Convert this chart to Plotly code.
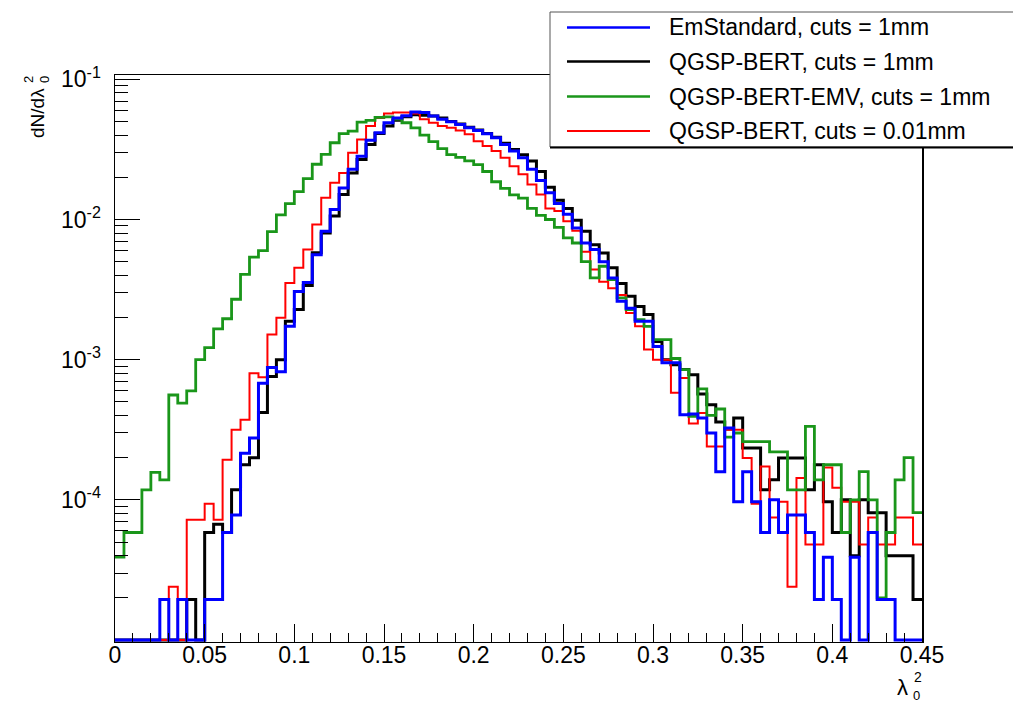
import plotly.graph_objects as go

# ---------------- data (bin contents, 90 bins of width 0.005 over [0, 0.45]) ----------------
bin_width = 0.005
n_bins = 90

em_standard_1mm = [0, 0, 0, 0, 0, 1.95e-5, 0, 1.95e-5, 0, 0,
                   1.95e-5, 1.95e-5, 5.85e-5, 7.8e-5, 2.15e-4, 2.76e-4, 6.8e-4, 8.8e-4, 8.2e-4, 1.73e-3,
                   3.07e-3, 3.56e-3, 5.6e-3, 8.26e-3, 1.18e-2, 1.68e-2, 2.28e-2, 2.83e-2, 3.68e-2, 4.16e-2,
                   4.9e-2, 5.3e-2, 5.5e-2, 5.85e-2, 5.8e-2, 5.47e-2, 5.2e-2, 4.99e-2, 4.77e-2, 4.52e-2,
                   4.32e-2, 4.09e-2, 3.83e-2, 3.43e-2, 3.08e-2, 2.76e-2, 2.28e-2, 1.9e-2, 1.55e-2, 1.3e-2,
                   1.09e-2, 8.7e-3, 6.8e-3, 6.1e-3, 5.0e-3, 3.83e-3, 2.61e-3, 2.33e-3, 1.88e-3, 1.88e-3,
                   1.24e-3, 9.5e-4, 9.5e-4, 4.05e-4, 4.1e-4, 3.83e-4, 3.0e-4, 1.59e-4, 3.25e-4, 9.7e-5,
                   1.59e-4, 9.7e-5, 5.85e-5, 1.0e-4, 5.85e-5, 7.8e-5, 7.8e-5, 5.85e-5, 1.95e-5, 3.9e-5,
                   1.95e-5, 0, 3.9e-5, 0, 5.85e-5, 1.95e-5, 1.95e-5, 0, 0, 0]

qgsp_bert_1mm = [0, 0, 0, 0, 0, 0, 0, 0, 1.95e-5, 0,
                 5.85e-5, 6.7e-5, 5.85e-5, 1.18e-4, 1.78e-4, 2.0e-4, 4.2e-4, 7.6e-4, 1.0e-3, 1.88e-3,
                 2.28e-3, 3.38e-3, 5.8e-3, 8.0e-3, 1.06e-2, 1.51e-2, 2.15e-2, 2.68e-2, 3.43e-2, 4.11e-2,
                 4.65e-2, 5.1e-2, 5.4e-2, 5.6e-2, 5.55e-2, 5.47e-2, 5.3e-2, 5.0e-2, 4.8e-2, 4.55e-2,
                 4.35e-2, 4.1e-2, 3.87e-2, 3.5e-2, 3.16e-2, 2.9e-2, 2.61e-2, 2.2e-2, 1.7e-2, 1.37e-2,
                 1.2e-2, 9.9e-3, 8.26e-3, 6.6e-3, 5.78e-3, 4.52e-3, 3.49e-3, 2.83e-3, 2.4e-3, 2.1e-3,
                 1.35e-3, 1.0e-3, 9.2e-4, 8.5e-4, 7.8e-4, 5.7e-4, 4.77e-4, 3.6e-4, 3.2e-4, 3.83e-4,
                 2.34e-4, 2.34e-4, 1.18e-4, 1.39e-4, 1.99e-4, 1.99e-4, 1.99e-4, 1.18e-4, 1.78e-4, 9.7e-5,
                 5.85e-5, 1.0e-4, 4.0e-5, 1.0e-4, 8.1e-5, 8.1e-5, 4.0e-5, 4.0e-5, 4.0e-5, 1.95e-5]

qgsp_bert_emv_1mm = [3.9e-5, 5.85e-5, 5.85e-5, 1.18e-4, 1.57e-4, 1.39e-4, 5.6e-4, 4.9e-4, 6.0e-4, 1.0e-3,
                     1.22e-3, 1.66e-3, 1.96e-3, 2.7e-3, 4.06e-3, 5.4e-3, 6.0e-3, 8.2e-3, 1.08e-2, 1.3e-2,
                     1.58e-2, 1.96e-2, 2.48e-2, 2.92e-2, 3.53e-2, 4.1e-2, 4.27e-2, 4.96e-2, 5.1e-2, 5.35e-2,
                     5.4e-2, 5.2e-2, 4.9e-2, 4.5e-2, 4.0e-2, 3.6e-2, 3.2e-2, 2.9e-2, 2.78e-2, 2.62e-2,
                     2.46e-2, 2.2e-2, 1.86e-2, 1.67e-2, 1.5e-2, 1.42e-2, 1.2e-2, 1.07e-2, 1.0e-2, 8.8e-3,
                     7.4e-3, 6.8e-3, 5.0e-3, 3.83e-3, 4.64e-3, 3.73e-3, 2.76e-3, 2.28e-3, 1.93e-3, 1.73e-3,
                     1.39e-3, 1.39e-3, 1.02e-3, 8.5e-4, 3.94e-4, 6.2e-4, 4.0e-4, 4.45e-4, 2.8e-4, 3.0e-4,
                     2.6e-4, 2.6e-4, 2.6e-4, 2.2e-4, 2.2e-4, 1.18e-4, 1.18e-4, 3.34e-4, 1.39e-4, 1.78e-4,
                     1.78e-4, 5.85e-5, 1.0e-4, 1.59e-4, 1.0e-4, 2.0e-5, 5.85e-5, 1.39e-4, 2.0e-4, 8.1e-5]

qgsp_bert_001mm = [0, 0, 0, 0, 0, 0, 2.4e-5, 0, 7.2e-5, 7.2e-5,
                   9.4e-5, 7.2e-5, 1.93e-4, 3.16e-4, 3.73e-4, 8.0e-4, 7.5e-4, 1.51e-3, 1.99e-3, 3.53e-3,
                   4.52e-3, 6.1e-3, 9.2e-3, 1.43e-2, 1.83e-2, 2.15e-2, 2.99e-2, 3.73e-2, 4.65e-2, 5.3e-2,
                   5.7e-2, 5.8e-2, 5.8e-2, 5.7e-2, 5.2e-2, 4.9e-2, 4.64e-2, 4.52e-2, 4.32e-2, 4.05e-2,
                   3.62e-2, 3.34e-2, 3.08e-2, 2.76e-2, 2.4e-2, 2.1e-2, 1.78e-2, 1.51e-2, 1.2e-2, 1.15e-2,
                   9.7e-3, 8.3e-3, 5.9e-3, 4.4e-3, 3.6e-3, 3.24e-3, 2.9e-3, 2.15e-3, 1.73e-3, 1.18e-3,
                   1.0e-3, 1.0e-3, 5.8e-4, 7.4e-4, 3.5e-4, 4.16e-4, 2.4e-4, 2.4e-4, 3.16e-4, 3.16e-4,
                   1.99e-4, 9.4e-5, 1.73e-4, 7.5e-5, 9.7e-5, 2.4e-5, 1.43e-4, 4.8e-5, 4.8e-5, 1.7e-4,
                   1.22e-4, 9.7e-5, 9.7e-5, 4.8e-5, 7.5e-5, 4.8e-5, 4.8e-5, 7.5e-5, 7.5e-5, 4.8e-5]

series_names = ["EmStandard, cuts = 1mm", "QGSP-BERT, cuts = 1mm",
                "QGSP-BERT-EMV, cuts = 1mm", "QGSP-BERT, cuts = 0.01mm"]
x_tick_values = [0, 0.05, 0.1, 0.15, 0.2, 0.25, 0.3, 0.35, 0.4, 0.45]
x_tick_labels = ["0", "0.05", "0.1", "0.15", "0.2", "0.25", "0.3", "0.35", "0.4", "0.45"]
y_tick_values = [1e-4, 1e-3, 1e-2, 1e-1]
y_tick_labels = ["10<sup>-4</sup>", "10<sup>-3</sup>", "10<sup>-2</sup>", "10<sup>-1</sup>"]

# ---------------- styling ----------------
W, H = 1013, 702
L, R, T, B = 115, 922, 75, 642          # plot frame in pixels
Y_LOG_RANGE = [-5.014, -0.969]
FLOOR = 10 ** -5.0                      # empty bins drawn on the frame bottom (like ROOT)
FONT = "Liberation Sans, Arial, Helvetica, sans-serif"

colors = ["#0000ff", "#000000", "#1a961a", "#ff0000"]
widths = [3, 3, 2.8, 2]
series = [em_standard_1mm, qgsp_bert_1mm, qgsp_bert_emv_1mm, qgsp_bert_001mm]

edges = [round(i * bin_width, 6) for i in range(n_bins + 1)]

fig = go.Figure()
draw_order = [1, 3, 2, 0]   # black, red, green, blue on top
for k in draw_order:
    vals = [v if v > 0 else FLOOR for v in series[k]]
    fig.add_trace(go.Scatter(
        x=edges, y=vals + [vals[-1]], mode="lines", line_shape="hv",
        line=dict(color=colors[k], width=widths[k]), name=series_names[k],
        showlegend=False, hoverinfo="skip"))

# invisible trace on the overlay axis (carries the minor log ticks)
fig.add_trace(go.Scatter(x=[0], y=[1e-3], yaxis="y2", mode="markers",
                         marker=dict(opacity=0), showlegend=False, hoverinfo="skip"))

minor_vals = [m * 10 ** e for e in range(-5, -1) for m in range(2, 10)]
minor_vals = [v for v in minor_vals if 10 ** Y_LOG_RANGE[0] < v < 10 ** Y_LOG_RANGE[1]]


def px_x(px):
    return (px - L) / (R - L)


def px_y(py):
    return (B - py) / (B - T)


fig.update_layout(
    width=W, height=H, autosize=False,
    margin=dict(l=L, r=W - R, t=T, b=H - B, pad=0),
    paper_bgcolor="white", plot_bgcolor="white",
    font=dict(family=FONT, color="black"),
    xaxis=dict(range=[0, 0.45], tickmode="array", tickvals=x_tick_values, ticktext=x_tick_labels,
               ticks="inside", ticklen=18, tickwidth=1, tickcolor="black",
               minor=dict(dtick=0.01, tick0=0, ticks="inside", ticklen=9, tickcolor="black", tickwidth=1,
                          showgrid=False),
               showline=True, linecolor="black", linewidth=1, mirror=True,
               showgrid=False, zeroline=False, tickfont=dict(size=23, family=FONT),
               ticklabelstandoff=-8),
    yaxis=dict(type="log", range=Y_LOG_RANGE, tickmode="array", tickvals=y_tick_values,
               ticktext=y_tick_labels, ticks="inside", ticklen=25, tickwidth=1, tickcolor="black",
               showline=True, linecolor="black", linewidth=1.5, mirror=True,
               showgrid=False, zeroline=False, tickfont=dict(size=23, family=FONT),
               ticklabelstandoff=8),
    yaxis2=dict(type="log", range=Y_LOG_RANGE, overlaying="y", side="left", anchor="x",
                tickmode="array", tickvals=minor_vals, ticks="inside", ticklen=13,
                tickwidth=1, tickcolor="black", showticklabels=False, showgrid=False,
                zeroline=False, showline=False),
)

# ---- legend box (ROOT TLegend style) ----
shapes = []
leg_left, leg_top, leg_bottom, leg_right = 550, 12, 147, 1040
shapes.append(dict(type="rect", xref="paper", yref="paper",
                   x0=px_x(leg_left), x1=px_x(leg_right), y0=px_y(leg_bottom), y1=px_y(leg_top),
                   line=dict(color="#555555", width=1), fillcolor="white", layer="above"))
shapes.append(dict(type="line", xref="paper", yref="paper",
                   x0=px_x(leg_left), x1=px_x(leg_right), y0=px_y(leg_bottom + 0.5), y1=px_y(leg_bottom + 0.5),
                   line=dict(color="black", width=2), layer="above"))
row_y = [27.5, 61.5, 96.5, 131]
for k in range(4):
    shapes.append(dict(type="line", xref="paper", yref="paper",
                       x0=px_x(567), x1=px_x(650), y0=px_y(row_y[k]), y1=px_y(row_y[k]),
                       line=dict(color=colors[k], width=2.5 if k < 3 else 2), layer="above"))
fig.update_layout(shapes=shapes)

annotations = []
for k in range(4):
    annotations.append(dict(xref="paper", yref="paper", x=px_x(667), y=px_y(row_y[k]),
                            text=series_names[k], showarrow=False, xanchor="left", yanchor="middle",
                            font=dict(size=23, family=FONT, color="black")))
# y-axis title (rotated, with stacked sub/superscript)
annotations.append(dict(xref="paper", yref="paper", x=px_x(37), y=px_y(113), text="dN/dλ",
                        textangle=-90, showarrow=False, xanchor="center", yanchor="middle",
                        font=dict(size=19, family=FONT, color="black")))
annotations.append(dict(xref="paper", yref="paper", x=px_x(28), y=px_y(80), text="2",
                        textangle=-90, showarrow=False, xanchor="center", yanchor="middle",
                        font=dict(size=13, family=FONT, color="black")))
annotations.append(dict(xref="paper", yref="paper", x=px_x(44), y=px_y(80), text="0",
                        textangle=-90, showarrow=False, xanchor="center", yanchor="middle",
                        font=dict(size=13, family=FONT, color="black")))
# x-axis title λ with stacked 0 / 2
annotations.append(dict(xref="paper", yref="paper", x=px_x(902), y=px_y(687), text="λ",
                        showarrow=False, xanchor="center", yanchor="middle",
                        font=dict(size=22, family=FONT, color="black")))
annotations.append(dict(xref="paper", yref="paper", x=px_x(918), y=px_y(677), text="2",
                        showarrow=False, xanchor="center", yanchor="middle",
                        font=dict(size=14, family=FONT, color="black")))
annotations.append(dict(xref="paper", yref="paper", x=px_x(916), y=px_y(695), text="0",
                        showarrow=False, xanchor="center", yanchor="middle",
                        font=dict(size=13, family=FONT, color="black")))
fig.update_layout(annotations=annotations)

fig.write_html("out.html",
               config={"displayModeBar": False, "staticPlot": True},
               post_script="document.body.style.margin='0';document.body.style.overflow='hidden';")
